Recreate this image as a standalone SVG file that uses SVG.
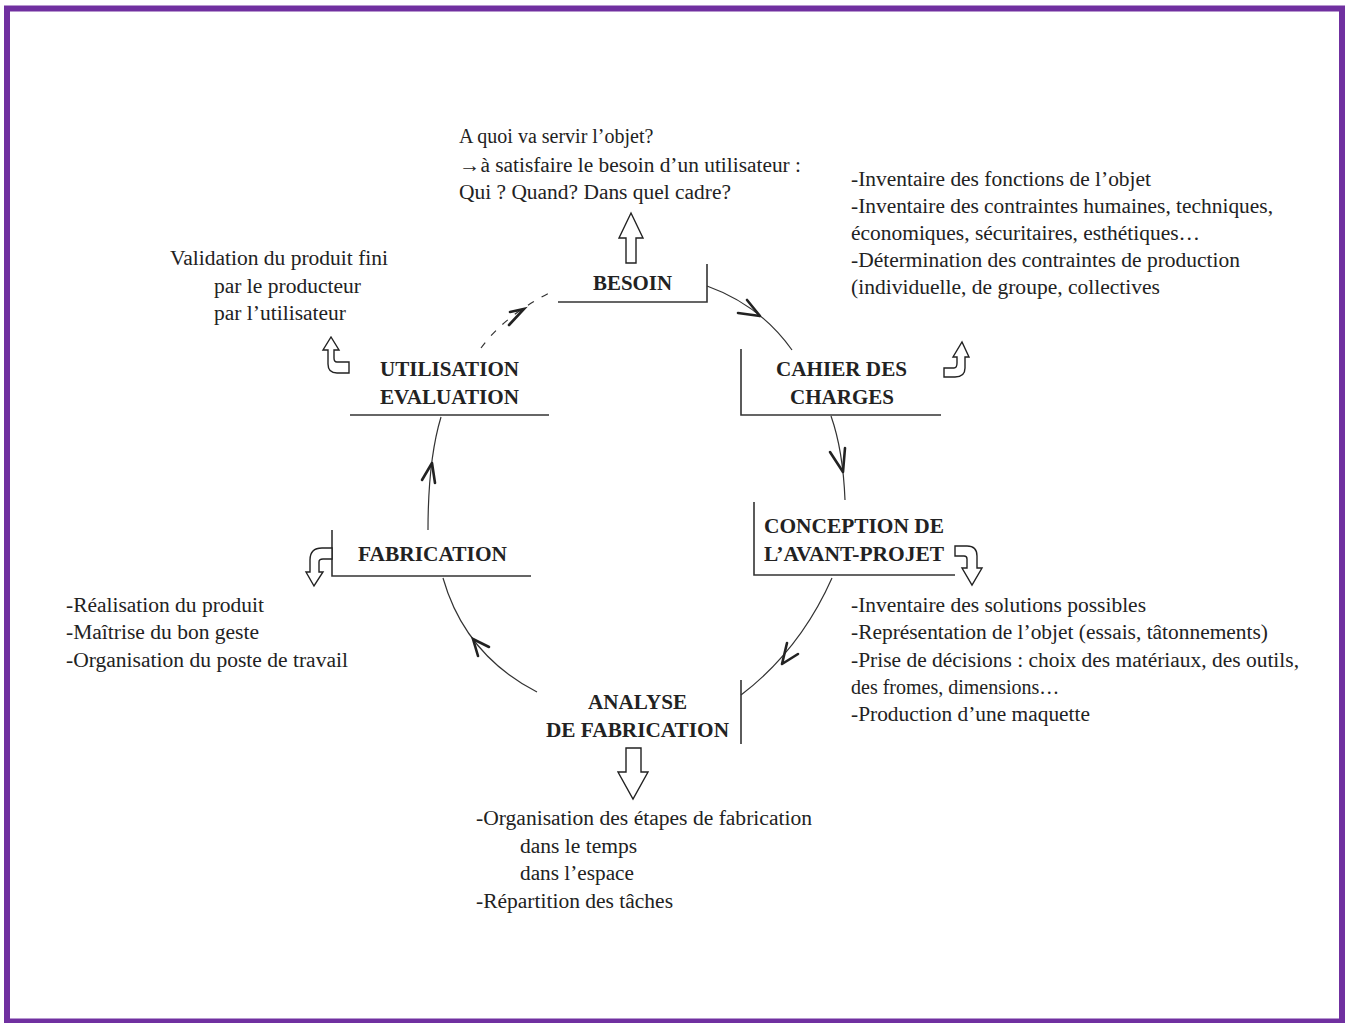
<svg xmlns="http://www.w3.org/2000/svg" width="1348" height="1023" viewBox="0 0 1348 1023">
<style>
.t{font-family:"Liberation Serif","Times New Roman",serif;font-size:20.5px;fill:#222}
.b{font-family:"Liberation Serif","Times New Roman",serif;font-size:21px;font-weight:bold;fill:#222}
.ln{stroke:#333;stroke-width:1.6;fill:none}
.c{stroke:#333;stroke-width:1.2;fill:none}
.ah{stroke:#222;stroke-width:2.6;fill:none;stroke-linecap:round}
.ha{fill:#fff;stroke:#222;stroke-width:1.4;stroke-linejoin:miter}
</style>
<rect x="0" y="0" width="1348" height="1023" fill="#fff"/>
<rect x="7" y="8.5" width="1335" height="1013" fill="none" stroke="#7030A0" stroke-width="6"/>

<g id="connectors">
<path class="c" d="M707,286 Q760,305 792,350"/>
<path class="ah" d="M747,300 L760,316 M738,313 L760,316"/>
<path class="c" d="M831,416 Q843,450 845,500"/>
<path class="ah" d="M830,452 L843,472 M845,448 L843,472"/>
<path class="c" d="M832,578 Q800,650 741,695"/>
<path class="ah" d="M787,643 L782,664 M798,654 L782,664"/>
<path class="c" d="M537,692 Q465,655 443,578"/>
<path class="ah" d="M478,656 L473,639 L489,647"/>
<path class="c" d="M428,530 Q428,460 441,417"/>
<path class="ah" d="M422,480 L432,463 M435,483 L432,463"/>
<path class="c" d="M481,348 Q505,315 553,291" stroke-dasharray="7,9"/>
<path class="ah" d="M510,312 L524,309 L509,325"/>
</g>

<g id="besoin">
<path class="ln" d="M558,302 L707,302 L707,264"/>
<text class="b" x="593" y="290" textLength="79" lengthAdjust="spacingAndGlyphs">BESOIN</text>
<polygon class="ha" points="626,263 626,238 619,238 631,213 643,238 636,238 636,263"/>
<text class="t" x="459" y="143" style="font-size:20px">A quoi va servir l’objet?</text>
<text class="t" x="459" y="172" textLength="342" lengthAdjust="spacingAndGlyphs">→à satisfaire le besoin d’un utilisateur :</text>
<text class="t" x="459" y="199" textLength="272" lengthAdjust="spacingAndGlyphs">Qui ? Quand? Dans quel cadre?</text>
</g>

<g id="cahier">
<path class="ln" d="M741,349 L741,415 L941,415"/>
<text class="b" x="776" y="376" textLength="131" lengthAdjust="spacingAndGlyphs">CAHIER DES</text>
<text class="b" x="790" y="404" textLength="104" lengthAdjust="spacingAndGlyphs">CHARGES</text>
<path class="ha" d="M944,368 L954,368 Q957,368 957,363 L957,357 L953,357 L962,342 L969,357 L965,357 L965,368 Q965,377 955,377 L944,377 Z"/>
<text class="t" x="851" y="186" textLength="300" lengthAdjust="spacingAndGlyphs">-Inventaire des fonctions de l’objet</text>
<text class="t" x="851" y="213" textLength="422" lengthAdjust="spacingAndGlyphs">-Inventaire des contraintes humaines, techniques,</text>
<text class="t" x="851" y="240" textLength="349" lengthAdjust="spacingAndGlyphs">économiques, sécuritaires, esthétiques…</text>
<text class="t" x="851" y="267" textLength="389" lengthAdjust="spacingAndGlyphs">-Détermination des contraintes de production</text>
<text class="t" x="851" y="294" textLength="309" lengthAdjust="spacingAndGlyphs">(individuelle, de groupe, collectives</text>
</g>

<g id="conception">
<path class="ln" d="M754,502 L754,575 L955,575"/>
<text class="b" x="764" y="533" textLength="180" lengthAdjust="spacingAndGlyphs">CONCEPTION DE</text>
<text class="b" x="764" y="561" textLength="180" lengthAdjust="spacingAndGlyphs">L’AVANT-PROJET</text>
<path class="ha" d="M955,546 L967,546 Q977,546 977,556 L977,568 L982,568 L972,585 L962,568 L967,568 L967,559 Q967,556 964,556 L955,556 Z"/>
<text class="t" x="851" y="612" textLength="295" lengthAdjust="spacingAndGlyphs">-Inventaire des solutions possibles</text>
<text class="t" x="851" y="639" textLength="417" lengthAdjust="spacingAndGlyphs">-Représentation de l’objet (essais, tâtonnements)</text>
<text class="t" x="851" y="667" textLength="448" lengthAdjust="spacingAndGlyphs">-Prise de décisions : choix des matériaux, des outils,</text>
<text class="t" x="851" y="694" style="font-size:20px">des fromes, dimensions…</text>
<text class="t" x="851" y="721" textLength="239" lengthAdjust="spacingAndGlyphs">-Production d’une maquette</text>
</g>

<g id="analyse">
<path class="ln" d="M741,680 L741,744"/>
<text class="b" x="588" y="709" textLength="99" lengthAdjust="spacingAndGlyphs">ANALYSE</text>
<text class="b" x="546" y="737" textLength="183" lengthAdjust="spacingAndGlyphs">DE FABRICATION</text>
<polygon class="ha" points="626,748 641,748 641,772 648,772 633,799 618,772 626,772"/>
<text class="t" x="476" y="825" textLength="336" lengthAdjust="spacingAndGlyphs">-Organisation des étapes de fabrication</text>
<text class="t" x="520" y="853" textLength="117" lengthAdjust="spacingAndGlyphs">dans le temps</text>
<text class="t" x="520" y="880" textLength="114" lengthAdjust="spacingAndGlyphs">dans l’espace</text>
<text class="t" x="476" y="908" textLength="197" lengthAdjust="spacingAndGlyphs">-Répartition des tâches</text>
</g>

<g id="fabrication">
<path class="ln" d="M332,530 L332,576 L531,576"/>
<text class="b" x="358" y="561" textLength="149" lengthAdjust="spacingAndGlyphs">FABRICATION</text>
<path class="ha" d="M332,548 L322,548 Q310,548 310,560 L310,572 L306,572 L314,586 L323,572 L319,572 L319,562 Q319,559 323,559 L332,559 Z"/>
<text class="t" x="66" y="612" textLength="198" lengthAdjust="spacingAndGlyphs">-Réalisation du produit</text>
<text class="t" x="66" y="639" textLength="193" lengthAdjust="spacingAndGlyphs">-Maîtrise du bon geste</text>
<text class="t" x="66" y="667" textLength="282" lengthAdjust="spacingAndGlyphs">-Organisation du poste de travail</text>
</g>

<g id="utilisation">
<path class="ln" d="M350,415 L549,415"/>
<text class="b" x="380" y="376" textLength="139" lengthAdjust="spacingAndGlyphs">UTILISATION</text>
<text class="b" x="380" y="404" textLength="139" lengthAdjust="spacingAndGlyphs">EVALUATION</text>
<path class="ha" d="M349,362 L337,362 Q334,362 334,358 L334,350 L339,350 L331,337 L323,350 L328,350 L328,364 Q328,373 337,373 L349,373 Z"/>
<text class="t" x="170" y="265" textLength="218" lengthAdjust="spacingAndGlyphs">Validation du produit fini</text>
<text class="t" x="214" y="293" textLength="147" lengthAdjust="spacingAndGlyphs">par le producteur</text>
<text class="t" x="214" y="320" textLength="132" lengthAdjust="spacingAndGlyphs">par l’utilisateur</text>
</g>
</svg>
